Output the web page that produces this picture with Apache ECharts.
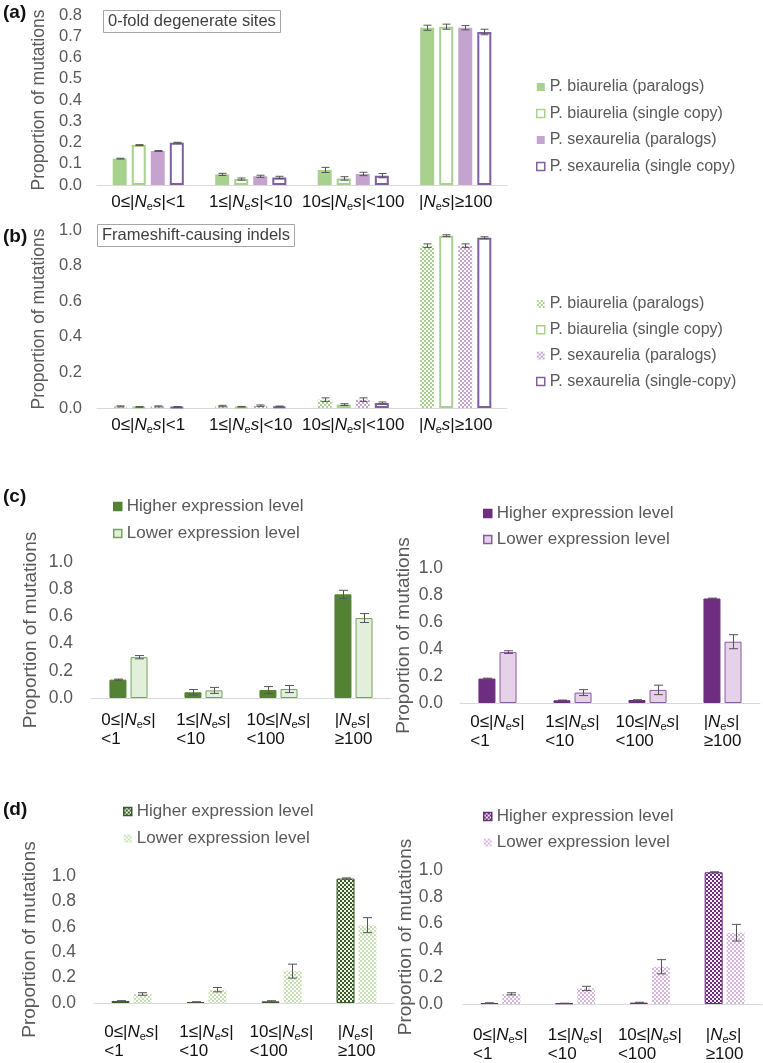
<!DOCTYPE html>
<html><head><meta charset="utf-8">
<script src="https://cdn.jsdelivr.net/npm/echarts@6/dist/echarts.min.js"></script>
<style>html,body{margin:0;padding:0;background:#fff}#c{width:763px;height:1063px}</style>
</head><body><div id="c"></div>
<script>
// ---------- data ----------
const catsAB = ['0≤|Nes|<1', '1≤|Nes|<10', '10≤|Nes|<100', '|Nes|≥100'];
const catsCD = ['0≤|Nes|\n<1', '1≤|Nes|\n<10', '10≤|Nes|\n<100', '|Nes|\n≥100'];
const ticksA = [0.0, 0.1, 0.2, 0.3, 0.4, 0.5, 0.6, 0.7, 0.8];
const ticksB = [0.0, 0.2, 0.4, 0.6, 0.8, 1.0];
const ticksCD = [0.0, 0.2, 0.4, 0.6, 0.8, 1.0];
const yTitle = 'Proportion of mutations';
const namesA = ['P. biaurelia (paralogs)', 'P. biaurelia (single copy)', 'P. sexaurelia (paralogs)', 'P. sexaurelia (single copy)'];
const namesB = ['P. biaurelia (paralogs)', 'P. biaurelia (single copy)', 'P. sexaurelia (paralogs)', 'P. sexaurelia (single-copy)'];
const namesCD = ['Higher expression level', 'Lower expression level'];

// (a) 0-fold degenerate sites
const aBiPar = [0.124, 0.050, 0.071, 0.740];
const aBiParErr = [0.002, 0.005, 0.012, 0.012];
const aBiSingle = [0.188, 0.028, 0.031, 0.745];
const aBiSingleErr = [0.002, 0.005, 0.008, 0.012];
const aSexPar = [0.160, 0.041, 0.052, 0.740];
const aSexParErr = [0.002, 0.005, 0.008, 0.010];
const aSexSingle = [0.199, 0.035, 0.044, 0.720];
const aSexSingleErr = [0.002, 0.006, 0.010, 0.013];

// (b) frameshift-causing indels
const bBiPar = [0.009, 0.011, 0.047, 0.912];
const bBiParErr = [0.003, 0.004, 0.010, 0.010];
const bBiSingle = [0.006, 0.007, 0.019, 0.968];
const bBiSingleErr = [0.002, 0.002, 0.005, 0.005];
const bSexPar = [0.009, 0.013, 0.047, 0.912];
const bSexParErr = [0.003, 0.004, 0.010, 0.010];
const bSexSingle = [0.006, 0.009, 0.028, 0.957];
const bSexSingleErr = [0.002, 0.002, 0.006, 0.005];

// (c) left: P. biaurelia, right: P. sexaurelia
const cLHigh = [0.135, 0.042, 0.059, 0.762];
const cLHighErr = [0.004, 0.020, 0.025, 0.030];
const cLLow = [0.300, 0.056, 0.066, 0.588];
const cLLowErr = [0.012, 0.022, 0.026, 0.033];
const cRHigh = [0.181, 0.020, 0.022, 0.774];
const cRHighErr = [0.003, 0.002, 0.002, 0.003];
const cRLow = [0.377, 0.077, 0.097, 0.454];
const cRLowErr = [0.010, 0.022, 0.035, 0.052];

// (d) left: P. biaurelia, right: P. sexaurelia
const dLHigh = [0.016, 0.008, 0.013, 0.980];
const dLHighErr = [0.002, 0.001, 0.005, 0.005];
const dLLow = [0.071, 0.105, 0.251, 0.613];
const dLLowErr = [0.010, 0.017, 0.055, 0.059];
const dRHigh = [0.007, 0.005, 0.010, 0.983];
const dRHighErr = [0.002, 0.001, 0.003, 0.004];
const dRLow = [0.076, 0.116, 0.278, 0.532];
const dRLowErr = [0.008, 0.016, 0.053, 0.062];

// ---------- styling helpers ----------
const FONT = 'Liberation Sans, Arial, Helvetica, sans-serif';
const GREY = '#595959';
function checker(c1, c2, s) {
  const cv = document.createElement('canvas');
  cv.width = cv.height = s * 2;
  const ctx = cv.getContext('2d');
  ctx.fillStyle = c2; ctx.fillRect(0, 0, s * 2, s * 2);
  ctx.fillStyle = c1; ctx.fillRect(0, 0, s, s); ctx.fillRect(s, s, s, s);
  return { image: cv, repeat: 'repeat' };
}
const G = '#a9d18e', P = '#c4a4ce', PD = '#7f5f9f';
const styA = [
  { color: G },
  { color: '#fff', borderColor: G, borderWidth: 2 },
  { color: P },
  { color: '#fff', borderColor: PD, borderWidth: 2 }
];
const styB = [
  { color: checker(G, '#ffffff', 2) },
  { color: '#fff', borderColor: G, borderWidth: 2 },
  { color: checker(P, '#ffffff', 2) },
  { color: '#fff', borderColor: PD, borderWidth: 2 }
];
const styCL = [
  { color: '#548235', borderColor: '#548235', borderWidth: 1 },
  { color: '#e2efda', borderColor: '#76a356', borderWidth: 1 }
];
const styCR = [
  { color: '#6e2d80', borderColor: '#6e2d80', borderWidth: 1 },
  { color: '#e6d1ea', borderColor: '#8a5a9c', borderWidth: 1 }
];
const styDL = [
  { color: checker('#3a5a26', '#f2f7ee', 2), borderColor: '#3a5a26', borderWidth: 1 },
  { color: checker('#c6e0b4', '#ffffff', 2) }
];
const styDR = [
  { color: checker('#6a2c7a', '#f7f0f8', 2), borderColor: '#6a2c7a', borderWidth: 1 },
  { color: checker('#d6b6dd', '#ffffff', 2) }
];

function rich(s) {
  return '{t|' + s.replace('Nes', '}{i|N}{sub|e}{i|s}{t|') + '}';
}
function richStyles(lh) {
  return {
    t: { fontSize: 17, color: '#111', fontFamily: FONT, lineHeight: lh, align: 'left' },
    i: { fontSize: 17, color: '#111', fontFamily: FONT, fontStyle: 'italic', lineHeight: lh, align: 'left' },
    sub: { fontSize: 11, color: '#111', fontFamily: FONT, lineHeight: lh, verticalAlign: 'bottom', align: 'left' }
  };
}

const grids = [
  { left: 97, top: 15, width: 410, height: 170 },
  { left: 97, top: 230, width: 410, height: 178 },
  { left: 91, top: 562, width: 300, height: 136 },
  { left: 460, top: 568, width: 300, height: 135 },
  { left: 94, top: 876, width: 300, height: 127 },
  { left: 463, top: 870, width: 299, height: 135 }
];
const tickSets = [ticksA, ticksB, ticksCD, ticksCD, ticksCD, ticksCD];
const yLabelMargin = [15, 15, 18, 17, 18, 20];
const yNameGap = [37, 37, 51, 47, 55, 43];
const yNameSize = [17.5, 17.5, 19, 19, 19, 19];
const yTickSize = [16.5, 16.5, 17.5, 17.5, 17.5, 17.5];
const xMargin = [7, 7, 13, 10, 20, 22];

const xAxes = grids.map((g, gi) => ({
  type: 'category', gridIndex: gi,
  data: gi < 2 ? catsAB : catsCD,
  axisLine: { lineStyle: { color: '#d9d9d9', width: 1 } },
  axisTick: { show: false },
  axisLabel: {
    margin: xMargin[gi], interval: 0,
    formatter: v => rich(v),
    rich: richStyles(gi < 2 ? 20 : 19)
  }
}));
const yAxes = grids.map((g, gi) => {
  const t = tickSets[gi];
  return {
    type: 'value', gridIndex: gi,
    min: t[0], max: t[t.length - 1], interval: t[1] - t[0],
    splitLine: { show: false }, axisLine: { show: false }, axisTick: { show: false },
    axisLabel: { margin: yLabelMargin[gi], color: GREY, fontSize: yTickSize[gi], fontFamily: FONT, formatter: v => v.toFixed(1) },
    name: yTitle, nameLocation: 'middle', nameGap: yNameGap[gi],
    nameTextStyle: { color: GREY, fontSize: yNameSize[gi], fontFamily: FONT }
  };
});

const series = [];
function addPanel(gi, names, vals, errs, stys, bw, gapPct, cap) {
  const n = vals.length;
  const pitch = bw * (1 + gapPct / 100);
  vals.forEach((v, k) => {
    series.push({
      type: 'bar', name: names[k], xAxisIndex: gi, yAxisIndex: gi,
      data: v, barWidth: bw, barGap: gapPct + '%', barCategoryGap: '30%',
      itemStyle: stys[k], silent: true
    });
  });
  vals.forEach((v, k) => {
    const offset = (k - (n - 1) / 2) * pitch;
    series.push({
      type: 'custom', xAxisIndex: gi, yAxisIndex: gi, silent: true, z: 5,
      data: v.map((y, i) => [i, y, errs[k][i]]),
      renderItem(params, api) {
        const i = api.value(0), y = api.value(1), e = api.value(2);
        const top = api.coord([i, y + e]);
        const bot = api.coord([i, Math.max(0, y - e)]);
        const x = Math.round(top[0] + offset) + 0.5;
        const st = { stroke: '#555', lineWidth: 1 };
        return {
          type: 'group', children: [
            { type: 'line', shape: { x1: x, y1: top[1], x2: x, y2: bot[1] }, style: st },
            { type: 'line', shape: { x1: x - cap / 2, y1: top[1], x2: x + cap / 2, y2: top[1] }, style: st },
            { type: 'line', shape: { x1: x - cap / 2, y1: bot[1], x2: x + cap / 2, y2: bot[1] }, style: st }
          ]
        };
      }
    });
  });
}
addPanel(0, namesA, [aBiPar, aBiSingle, aSexPar, aSexSingle], [aBiParErr, aBiSingleErr, aSexParErr, aSexSingleErr], styA, 14, 36, 8);
addPanel(1, namesB, [bBiPar, bBiSingle, bSexPar, bSexSingle], [bBiParErr, bBiSingleErr, bSexParErr, bSexSingleErr], styB, 14, 36, 8);
addPanel(2, namesCD, [cLHigh, cLLow], [cLHighErr, cLLowErr], styCL, 17, 24, 9);
addPanel(3, namesCD, [cRHigh, cRLow], [cRHighErr, cRLowErr], styCR, 17, 24, 9);
addPanel(4, namesCD, [dLHigh, dLLow], [dLHighErr, dLLowErr], styDL, 18, 22, 9);
addPanel(5, namesCD, [dRHigh, dRLow], [dRHighErr, dRLowErr], styDR, 18, 22, 9);

function legendStyle(s) {
  const o = { color: s.color, borderColor: s.borderColor || s.color, borderWidth: s.borderColor ? 1.5 : 0 };
  if (s.color === '#fff') o.borderWidth = 1.5;
  return o;
}
function legend(left, top, names, stys, fs, gap) {
  return {
    left, top, orient: 'vertical', selectedMode: false,
    itemWidth: 8, itemHeight: 8, itemGap: gap,
    textStyle: { color: GREY, fontSize: fs, fontFamily: FONT },
    data: names.map((n, k) => ({ name: n, icon: 'rect', itemStyle: legendStyle(stys[k]) }))
  };
}
const legends = [
  legend(531, 74, namesA, styA, 16, 10.5),
  legend(531, 291, namesB, styB, 16, 9.8),
  legend(108, 493, namesCD, styCL, 17, 10),
  legend(478, 500, namesCD, styCR, 17, 9),
  legend(118, 798, namesCD, styDL, 17, 10),
  legend(478, 803, namesCD, styDR, 17, 9)
];

function label(text, left, top) {
  return { text, left, top, padding: 0, textStyle: { fontSize: 19, fontWeight: 'bold', color: '#111', fontFamily: FONT } };
}
function boxed(text, left, top) {
  return {
    text, left, top, padding: [3, 5, 3, 5], borderColor: '#a6a6a6', borderWidth: 1,
    textStyle: { fontSize: 16.5, fontWeight: 'normal', color: '#404040', fontFamily: FONT }
  };
}
const titles = [
  label('(a)', 3, 3), boxed('0-fold degenerate sites', 103, 10),
  label('(b)', 3, 227), boxed('Frameshift-causing indels', 97, 224),
  label('(c)', 3, 487), label('(d)', 3, 800)
];

const chart = echarts.init(document.getElementById('c'), null, { renderer: 'canvas' });
chart.setOption({
  animation: false,
  backgroundColor: '#fff',
  textStyle: { fontFamily: FONT },
  title: titles,
  legend: legends,
  grid: grids,
  xAxis: xAxes,
  yAxis: yAxes,
  series
});
</script>
</body></html>
